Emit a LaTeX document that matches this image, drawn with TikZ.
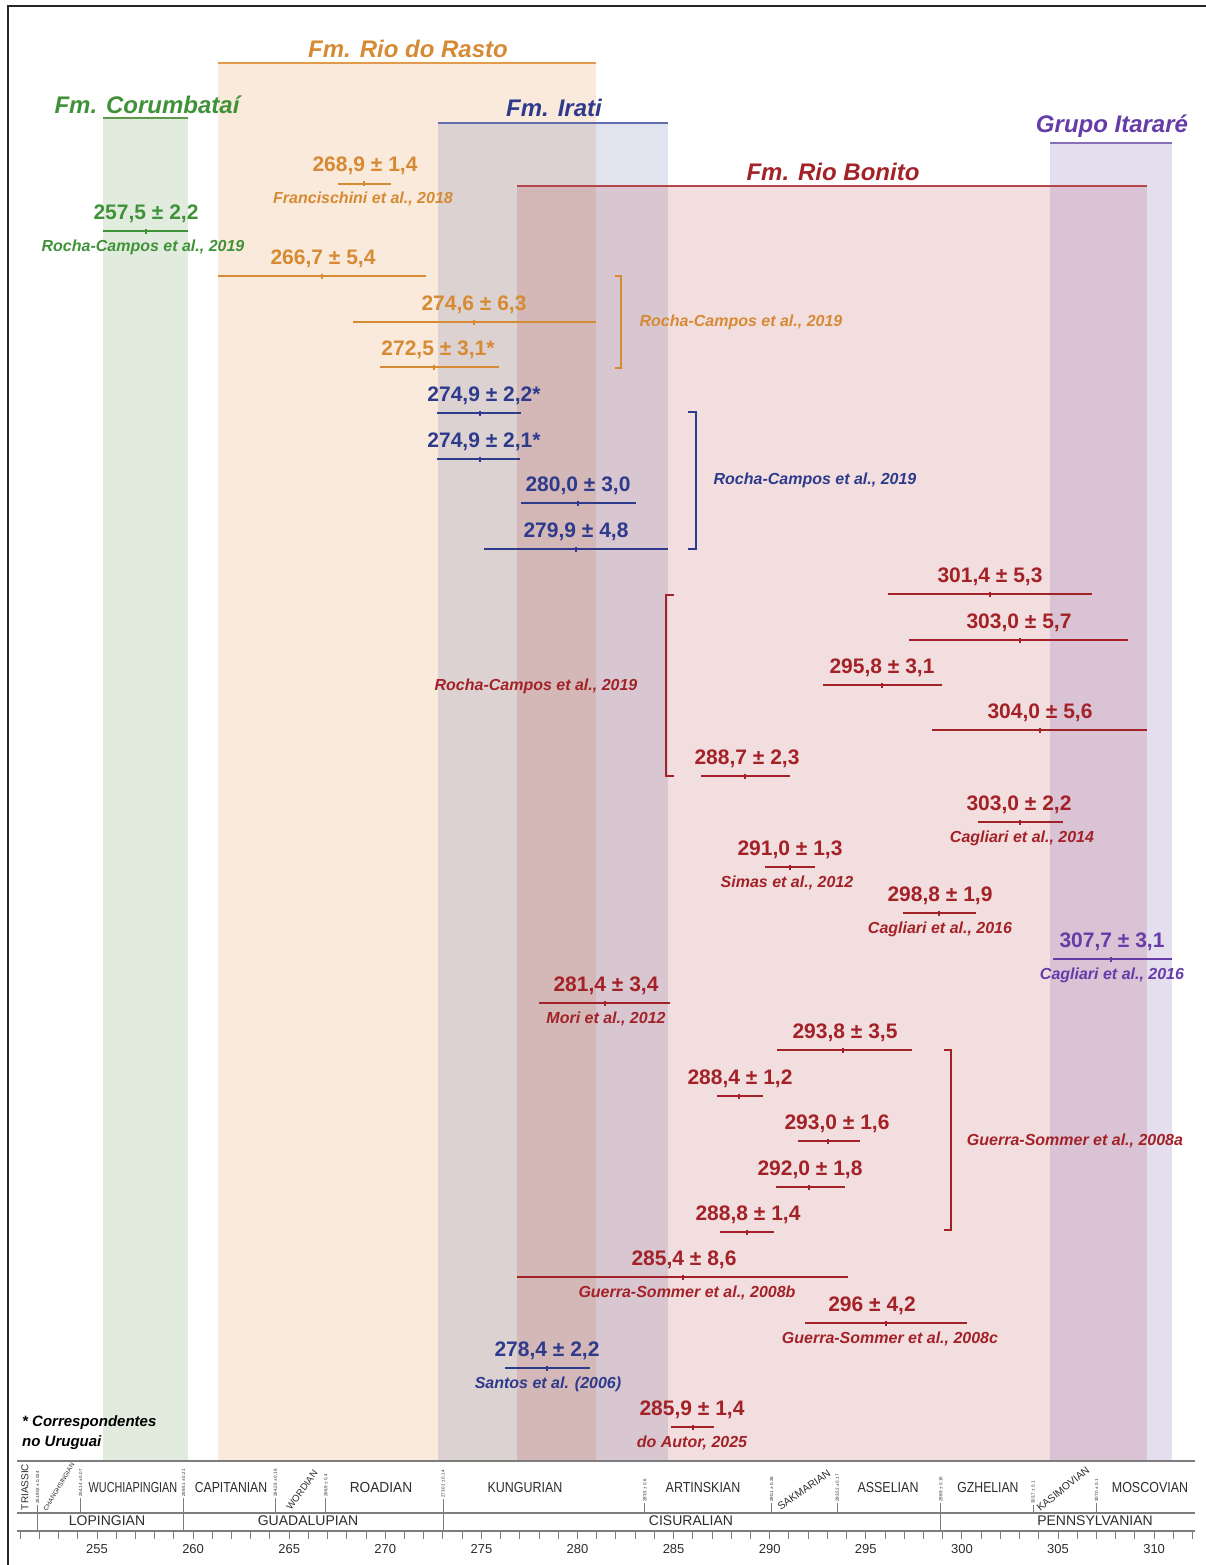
\documentclass[tikz,border=0pt]{standalone}
\usepackage{fontspec}
\setmainfont{Liberation Sans}
\usetikzlibrary{calc}
\definecolor{cgreen}{RGB}{64,146,56}
\definecolor{corange}{RGB}{214,138,52}
\definecolor{cblue}{RGB}{46,58,140}
\definecolor{cred}{RGB}{163,34,40}
\definecolor{cpurple}{RGB}{102,60,168}
\definecolor{bgreen}{RGB}{90,154,74}
\definecolor{borange}{RGB}{227,154,76}
\definecolor{bblue}{RGB}{59,74,154}
\definecolor{bred}{RGB}{168,38,44}
\definecolor{bpurple}{RGB}{106,76,168}
\definecolor{axgray}{RGB}{125,125,125}
\definecolor{txgray}{RGB}{45,45,45}
\tikzset{
  num/.style={font=\fontsize{21}{21}\selectfont\bfseries, anchor=base, inner sep=0pt},
  reftext/.style={font=\fontsize{16}{16}\selectfont\bfseries\itshape, anchor=base, inner sep=0pt},
  titletext/.style={font=\fontsize{24}{24}\selectfont\bfseries\itshape, anchor=base, inner sep=0pt},
  errbar/.style={line width=1.5pt},
  uline/.style={line width=2pt},
  band/.style={fill opacity=#1},
  brk/.style={line width=1.5pt},
  axline/.style={draw=axgray, line width=1.2pt},
  stagetext/.style={font=\fontsize{14.5}{14.5}\selectfont, text=txgray, inner sep=0pt, xscale=0.86},
  rotstage/.style={font=\fontsize{10}{10}\selectfont, text=txgray, inner sep=0pt},
  seriestext/.style={font=\fontsize{14}{14}\selectfont, text=txgray, inner sep=0pt},
  axnum/.style={font=\fontsize{13}{13}\selectfont, text=txgray, anchor=base, inner sep=0pt},
  tinytext/.style={font=\fontsize{4.5}{4.5}\selectfont, text=txgray, inner sep=0pt, rotate=90, anchor=west},
}
% color, name, text x, bar y, bar x1, bar x2, tick x, label
\newcommand{\datum}[8]{%
  \node[num,text=#1] (#2) at (#3,#4-12) {#8};
  \draw[errbar,draw=#1] (#5,#4) -- (#6,#4);
  \draw[errbar,draw=#1] (#7,#4-2.5) -- (#7,#4+2.5);
}
% color, name, x, bar y, text
\newcommand{\reflab}[5]{\node[reftext,text=#1] (#2) at (#3,#4+20) {#5};}
\begin{document}
\begin{tikzpicture}[x=1pt,y=-1pt]
\useasboundingbox (0,0) rectangle (1205,1565);
\fill[white] (0,0) rectangle (1205,1565);

% cut title fragment
\node[font=\fontsize{20}{20}\selectfont\bfseries, anchor=base, inner sep=0pt] (cut) at (727,-4) {ç};

% frame
\draw[line width=2.5pt, draw=black!85] (8,1570) -- (8,6) -- (1210,6);

% bands
\fill[bgreen, band=0.18] (103,118) rectangle (188,1461);
\fill[borange, band=0.2] (218,63) rectangle (596,1461);
\fill[bblue, band=0.15] (438,123) rectangle (668,1461);
\fill[bred, band=0.15] (517,186) rectangle (1147,1461);
\fill[bpurple, band=0.18] (1050,143) rectangle (1172,1461);

% titles
\node[titletext,text=cgreen] (tcor) at (147,114) {Fm. Corumbataí};
\draw[uline,draw=bgreen] (103,118) -- (188,118);
\node[titletext,text=corange] (trr) at (408,58) {Fm. Rio do Rasto};
\draw[uline,draw=borange] (218,63) -- (596,63);
\node[titletext,text=cblue] (tir) at (554,117) {Fm. Irati};
\draw[uline,draw=bblue!80] (438,123) -- (668,123);
\node[titletext,text=cred] (trb) at (833,181) {Fm. Rio Bonito};
\draw[uline,draw=bred!85] (517,186) -- (1147,186);
\node[titletext,text=cpurple] (tgi) at (1112,133) {Grupo Itararé};
\draw[uline,draw=bpurple!80] (1050,143) -- (1172,143);

% green
\datum{cgreen}{g1}{146}{231}{103}{188}{146}{257,5 ± 2,2}
\reflab{cgreen}{rg1}{143}{231}{Rocha-Campos et al., 2019}

% orange
\datum{corange}{o1}{365}{184}{338}{391}{364}{268,9 ± 1,4}
\reflab{corange}{ro1}{363}{184}{Francischini et al., 2018}
\datum{corange}{o2}{323}{276}{218}{426}{322}{266,7 ± 5,4}
\datum{corange}{o3}{474}{322}{353}{596}{474}{274,6 ± 6,3}
\datum{corange}{o4}{438}{367}{380}{499}{434}{272,5 ± 3,1*}
\draw[brk,draw=corange] (615,276) -- (621,276) -- (621,368) -- (615,368);
\node[reftext,text=corange] (ro2) at (741,326) {Rocha-Campos et al., 2019};

% blue (Irati)
\datum{cblue}{b1}{484}{413}{437}{521}{480}{274,9 ± 2,2*}
\datum{cblue}{b2}{484}{459}{437}{520}{480}{274,9 ± 2,1*}
\datum{cblue}{b3}{578}{503}{521}{636}{578}{280,0 ± 3,0}
\datum{cblue}{b4}{576}{549}{484}{668}{576}{279,9 ± 4,8}
\draw[brk,draw=cblue] (688,412) -- (696,412) -- (696,549) -- (688,549);
\node[reftext,text=cblue] (rb1) at (815,484) {Rocha-Campos et al., 2019};

% red
\datum{cred}{r1}{990}{594}{888}{1092}{990}{301,4 ± 5,3}
\datum{cred}{r2}{1019}{640}{909}{1128}{1020}{303,0 ± 5,7}
\datum{cred}{r3}{882}{685}{823}{942}{882}{295,8 ± 3,1}
\datum{cred}{r4}{1040}{730}{932}{1147}{1040}{304,0 ± 5,6}
\datum{cred}{r5}{747}{776}{701}{790}{745}{288,7 ± 2,3}
\draw[brk,draw=cred] (674,595) -- (666,595) -- (666,776) -- (674,776);
\node[reftext,text=cred] (rr1) at (536,690) {Rocha-Campos et al., 2019};

\datum{cred}{r6}{1019}{822}{978}{1063}{1020}{303,0 ± 2,2}
\reflab{cred}{rr2}{1022}{822}{Cagliari et al., 2014}
\datum{cred}{r7}{790}{867}{765}{815}{790}{291,0 ± 1,3}
\reflab{cred}{rr3}{787}{867}{Simas et al., 2012}
\datum{cred}{r8}{940}{913}{903}{976}{939}{298,8 ± 1,9}
\reflab{cred}{rr4}{940}{913}{Cagliari et al., 2016}
\datum{cpurple}{p1}{1112}{959}{1053}{1172}{1111}{307,7 ± 3,1}
\reflab{cpurple}{rp1}{1112}{959}{Cagliari et al., 2016}
\datum{cred}{r9}{606}{1003}{539}{670}{605}{281,4 ± 3,4}
\reflab{cred}{rr5}{606}{1003}{Mori et al., 2012}

\datum{cred}{r10}{845}{1050}{777}{912}{843}{293,8 ± 3,5}
\datum{cred}{r11}{740}{1096}{717}{763}{739}{288,4 ± 1,2}
\datum{cred}{r12}{837}{1141}{798}{860}{828}{293,0 ± 1,6}
\datum{cred}{r13}{810}{1187}{776}{845}{809}{292,0 ± 1,8}
\datum{cred}{r14}{748}{1232}{720}{774}{747}{288,8 ± 1,4}
\draw[brk,draw=cred] (944,1050) -- (951,1050) -- (951,1230) -- (944,1230);
\node[reftext,text=cred] (rr6) at (1075,1145) {Guerra-Sommer et al., 2008a};

\datum{cred}{r15}{684}{1277}{517}{848}{683}{285,4 ± 8,6}
\reflab{cred}{rr7}{687}{1277}{Guerra-Sommer et al., 2008b}
\datum{cred}{r16}{872}{1323}{805}{967}{886}{296 ± 4,2}
\reflab{cred}{rr8}{890}{1323}{Guerra-Sommer et al., 2008c}
\datum{cblue}{b5}{547}{1368}{505}{590}{547}{278,4 ± 2,2}
\reflab{cblue}{rb2}{548}{1368}{Santos et al. (2006)}
\datum{cred}{r17}{692}{1427}{671}{714}{693}{285,9 ± 1,4}
\reflab{cred}{rr9}{692}{1427}{do Autor, 2025}

% footnote
\node[font=\fontsize{15}{15}\selectfont\bfseries\itshape, anchor=base west, inner sep=0pt] (fn1) at (22,1426) {* Correspondentes};
\node[font=\fontsize{15}{15}\selectfont\bfseries\itshape, anchor=base west, inner sep=0pt] (fn2) at (22,1446) {no Uruguai};

% time scale
\fill[white] (17,1461) rectangle (1195,1565);
\draw[axline] (17,1461) -- (1195,1461);
\draw[axline] (17,1513) -- (1195,1513);
\draw[axline] (17,1531) -- (1195,1531);
\foreach \t in {251,...,312} {
  \draw[axline, line width=1pt] ({97+19.22*(\t-255)},1531) -- ++(0,8);
}
\foreach \t in {255,260,...,310} {
  \node[axnum] at ({97+19.22*(\t-255)},1553) {\t};
}
% boundaries: age / top / bottom / label
\foreach \a/\yt/\yb/\lab in {
  251.902/1505/1531/{251.902 ± 0.024},
  254.14/1498/1513/{254.14 ± 0.07},
  259.51/1498/1531/{259.51 ± 0.21},
  264.28/1498/1513/{264.28 ± 0.16},
  266.9/1498/1513/{266.9 ± 0.4},
  273.01/1499/1531/{273.01 ± 0.14},
  283.5/1503/1513/{283.5 ± 0.6},
  290.1/1503/1513/{290.1 ± 0.26},
  293.52/1503/1513/{293.52 ± 0.17},
  298.9/1503/1531/{298.9 ± 0.15},
  303.7/1505/1513/{303.7 ± 0.1},
  307.0/1503/1513/{307.0 ± 0.1}} {
  \draw[axline, line width=1pt] ({97+19.22*(\a-255)},\yt) -- ({97+19.22*(\a-255)},\yb);
  \node[tinytext] at ({97+19.22*(\a-255)},\yt-1) {\lab};
}
% stages
\node[rotstage, rotate=90] (sTri) at (25,1487) {TRIASSIC};
\node[rotstage, font=\fontsize{6.4}{6.4}\selectfont, rotate=59] (sCha) at (59,1487) {CHANGHSINGIAN};
\node[stagetext, xscale=0.87] (sWuc) at (133,1487) {WUCHIAPINGIAN};
\node[stagetext, xscale=0.98] (sCap) at (231,1487) {CAPITANIAN};
\node[rotstage, font=\fontsize{9.5}{9.5}\selectfont, rotate=54] (sWor) at (302,1490) {WORDIAN};
\node[stagetext, xscale=1.1] (sRoa) at (381,1487) {ROADIAN};
\node[stagetext] (sKun) at (525,1487) {KUNGURIAN};
\node[stagetext] (sArt) at (703,1487) {ARTINSKIAN};
\node[rotstage, font=\fontsize{10.5}{10.5}\selectfont, rotate=35] (sSak) at (804,1490) {SAKMARIAN};
\node[stagetext] (sAss) at (888,1487) {ASSELIAN};
\node[stagetext, xscale=0.98] (sGzh) at (988,1487) {GZHELIAN};
\node[rotstage, font=\fontsize{10.3}{10.3}\selectfont, rotate=39] (sKas) at (1063,1489) {KASIMOVIAN};
\node[stagetext] (sMos) at (1150,1487) {MOSCOVIAN};
% series
\node[seriestext] (eLop) at (107,1521) {LOPINGIAN};
\node[seriestext] (eGua) at (308,1521) {GUADALUPIAN};
\node[seriestext] (eCis) at (691,1521) {CISURALIAN};
\node[seriestext] (ePen) at (1095,1521) {PENNSYLVANIAN};
\end{tikzpicture}
\end{document}
